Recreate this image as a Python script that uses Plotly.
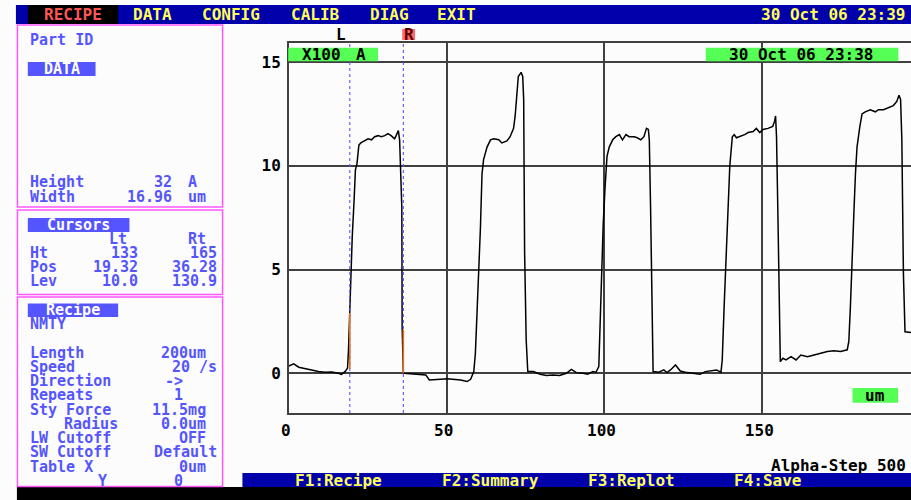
import plotly.graph_objects as go

# ---------------- data ----------------
profile_x = [0, 1.57, 3.14, 5.23, 7.33, 9.42, 11.5, 13.6, 15.7, 16.7, 17.8, 18.6, 18.9, 19.3,
             19.7, 20.1, 20.7, 21.1, 21.6, 22.2, 22.8, 24.1, 25.1, 26.2, 27.2, 28.3, 29.3, 30.4,
             31.4, 32.4, 33.5, 34.0, 34.7, 35.1, 35.4, 35.8, 35.9, 36.28, 36.6, 38.7, 41.9, 43.4,
             44.5, 46.0, 48.1, 50.2, 52.3, 54.4, 56.5, 57.6, 58.6, 59.1, 59.7, 60.2, 60.7, 61.2,
             61.7, 62.8, 63.9, 64.9, 66.5, 67.5, 69.1, 70.1, 71.2, 71.7, 72.2, 72.7, 73.6, 74.1,
             74.4, 74.7, 75.2, 75.7, 77.5, 79.6, 81.6, 83.7, 85.8, 87.9, 89.5, 91.1, 93.2, 94.7,
             96.3, 97.3, 98.2, 98.6, 99.1, 99.6, 100.2, 100.8, 101.5, 102.6, 103.6, 104.7, 105.7,
             106.8, 107.8, 109.4, 110.4, 111.5, 112.5, 113.3, 113.9, 114.2, 114.6, 115.1, 115.4,
             117.2, 118.8, 119.8, 120.9, 122.5, 124.0, 125.6, 127.7, 130.3, 131.9, 134.0, 135.5,
             136.9, 137.3, 137.9, 138.5, 139.2, 139.7, 140.5, 141.1, 141.8, 142.9, 144.4, 145.5,
             147.1, 148.1, 149.2, 150.2, 151.8, 153.3, 153.9, 154.2, 154.5, 154.9, 155.4, 155.7,
             156.5, 157.5, 159.1, 160.7, 162.2, 164.3, 166.4, 168.5, 170.6, 172.7, 174.8, 176.9,
             177.4, 177.9, 178.4, 179.0, 179.5, 180.0, 180.9, 181.6, 182.6, 184.2, 185.8, 186.8,
             188.4, 190.0, 191.5, 192.6, 193.3, 193.8, 194.2, 194.7, 195.2, 197.1]
profile_y = [0.35, 0.45, 0.29, 0.21, 0.16, 0.08, 0.05, 0.06, 0.0, -0.05, 0.08, 0.24, 1.1, 2.9,
             5.0, 6.6, 8.4, 9.8, 10.1, 11.0, 11.1, 11.2, 11.3, 11.25, 11.4, 11.45, 11.4, 11.45,
             11.55, 11.45, 11.3, 11.45, 11.7, 11.25, 9.5, 8.0, 2.2, 0.05, 0.0, -0.03, -0.05, -0.08,
             -0.32, -0.32, -0.29, -0.27, -0.29, -0.32, -0.40, -0.29, 0.08, 0.96, 3.2, 4.8, 7.0, 9.6,
             10.3, 10.9, 11.25, 11.3, 11.25, 11.1, 11.2, 11.4, 11.8, 12.4, 13.3, 14.3, 14.5, 14.3,
             13.2, 5.8, 1.6, 0.08, 0.08, -0.05, -0.11, -0.08, -0.11, 0.0, 0.19, 0.03, 0.0, -0.05,
             0.08, 0.05, 0.32, 2.4, 4.8, 7.2, 9.0, 10.45, 10.9, 11.25, 11.4, 11.5, 11.25,
             11.5, 11.4, 11.4, 11.35, 11.25, 11.4, 11.8, 11.75, 11.25, 8.0, 3.2, 0.08,
             0.05, 0.16, 0.03, 0.16, 0.4, 0.11, 0.05, 0.0, -0.05, 0.08, 0.11, 0.16,
             0.05, 0.64, 3.2, 5.6, 8.0, 10.0, 11.4, 11.5, 11.35, 11.4, 11.5, 11.6,
             11.65, 11.8, 11.6, 11.75, 11.8, 11.9, 12.15, 12.4, 11.4, 8.0, 3.2, 0.56,
             0.72, 0.64, 0.8, 0.64, 0.88, 0.8, 0.88, 0.96, 1.05, 1.09, 1.05, 1.13,
             1.53, 3.2, 5.6, 7.7, 9.6, 10.9, 11.9, 12.5, 12.6, 12.7, 12.6, 12.7,
             12.7, 12.8, 12.9, 13.1, 13.4, 13.2, 11.25, 4.8, 2.0, 1.96]

cursor_names = ["L", "R"]
cursor_pos = [19.32, 36.28]
cursor_hilite_y = [[0.2, 2.9], [0.0, 2.1]]

x_ticks = [0, 50, 100, 150]
y_ticks = [0, 5, 10, 15]
x_range = [0, 197.1]
y_range = [-1.915, 15.93]

menu_labels = ["RECIPE", "DATA", "CONFIG", "CALIB", "DIAG", "EXIT"]
screen_time = "30 Oct 06 23:39"
scan_time = "30 Oct 06 23:38"
scale_labels = ["X100", "A"]
unit_label = "um"
instrument = "Alpha-Step 500"
footer_labels = ["F1:Recipe", "F2:Summary", "F3:Replot", "F4:Save"]

part_title = "Part ID"
part_name = "DATA"
part_labels = ["Height", "Width"]
part_values = ["32", "16.96"]
part_units = ["A", "um"]

cursor_title = "Cursors"
cursor_cols = ["Lt", "Rt"]
cursor_rows = ["Ht", "Pos", "Lev"]
cursor_lt = ["133", "19.32", "10.0"]
cursor_rt = ["165", "36.28", "130.9"]

recipe_title = "Recipe"
recipe_name = "NMTY"
recipe_labels = ["Length", "Speed", "Direction", "Repeats", "Sty Force", "Radius",
                 "LW Cutoff", "SW Cutoff", "Table X", "Y"]
recipe_values = ["200um", "20 /s", "->", "1", "11.5mg", "0.0um", "OFF", "Default", "0um", "0"]

# ---------------- styling / layout helpers ----------------
W, H = 911, 500
BG = "#fcfcfc"
NAVY = "#0000aa"
YEL = "#ffff55"
BLUE = "#5555ff"
MAG = "#ff55ff"
GREEN = "#55ff55"
GRID = "#404040"
FONT = "DejaVu Sans Mono"
FS = 15
FS_BAR = 16
COL0, CW = 8.6, 11.39


def px(x):
    return x / W


def py(y):
    return 1 - y / H


shapes = []
annotations = []


def rect(x0, y0, x1, y1, fill=None, line=None, lw=1.5, layer="above"):
    shapes.append(dict(type="rect", xref="paper", yref="paper",
                       x0=px(x0), x1=px(x1), y0=py(y1), y1=py(y0),
                       fillcolor=fill if fill else "rgba(0,0,0,0)",
                       line=dict(color=line if line else "rgba(0,0,0,0)", width=lw if line else 0),
                       layer=layer))


def txt(col, y, s, color, size=FS, align="center", ncol=None):
    """Place text on the character grid.
    align='left': starts at column col; 'right': ends at column col;
    'center': centred on the cells col .. col+len-1."""
    n = ncol if ncol else len(s)
    if align == "left":
        x, anchor = COL0 + CW * col + 0.5, "left"
    elif align == "right":
        x, anchor = COL0 + CW * (col + 1) - 0.5, "right"
    else:
        x, anchor = COL0 + CW * (col + n / 2), "center"
    annotations.append(dict(text=s, xref="paper", yref="paper", x=px(x), y=py(y),
                            xanchor=anchor, yanchor="middle", showarrow=False,
                            font=dict(family=FONT, size=size, color=color, weight="bold")))


def cx0(c):
    return COL0 + CW * c


# screen chrome
rect(8, 5, 911, 24, fill=NAVY, layer="below")
rect(cx0(1), 5, cx0(9), 24, fill="#000000", layer="below")
rect(9, 487, 911, 500, fill="#000000", layer="below")
rect(236.5, 473, 911, 487, fill=NAVY, layer="below")

menu_cols = [2, 10, 16, 24, 31, 37]
for lab, c in zip(menu_labels, menu_cols):
    txt(c, 14.5, lab, "#ff5555" if lab == "RECIPE" else YEL, size=FS_BAR)
txt(78, 14.5, screen_time, YEL, size=FS_BAR, align="right")

footer_cols = [24, 37, 50, 63]
for lab, c in zip(footer_labels, footer_cols):
    txt(c, 480.5, lab, YEL, size=FS_BAR)
txt(78, 465.5, instrument, "#000000", size=FS_BAR, align="right")

# left panels
rect(9.5, 25, 216.5, 207, line=MAG, lw=1.5, layer="below")
rect(9.5, 210, 216.5, 294.5, line=MAG, lw=1.5, layer="below")
rect(9.5, 297, 216.5, 486.5, line=MAG, lw=1.5, layer="below")

txt(1, 40, part_title, BLUE, align="left")
rect(cx0(1), 62, cx0(7), 76, fill=BLUE, layer="below")
txt(2, 69, part_name, "#ffffff")
for lab, val, unit, y in zip(part_labels, part_values, part_units, [182, 196.5]):
    txt(1, y, lab, BLUE, align="left")
    txt(13, y, val, BLUE, align="right")
    txt(15, y, unit, BLUE, align="left")

rect(cx0(1), 218, cx0(10), 232, fill=BLUE, layer="below")
txt(2, 225, cursor_title, "#ffffff")
txt(9, 239, cursor_cols[0], BLUE, align="right")
txt(16, 239, cursor_cols[1], BLUE, align="right")
for lab, lt, rt, y in zip(cursor_rows, cursor_lt, cursor_rt, [253, 267, 281]):
    txt(1, y, lab, BLUE, align="left")
    txt(10, y, lt, BLUE, align="right")
    txt(17, y, rt, BLUE, align="right")

rect(cx0(1), 303.5, cx0(9), 317, fill=BLUE, layer="below")
txt(2, 310, recipe_title, "#ffffff")
txt(1, 324, recipe_name, BLUE, align="left")
recipe_label_cols = [1, 1, 1, 1, 1, 4, 1, 1, 1, 7]
recipe_value_ends = [16, 17, 14, 14, 16, 16, 16, 17, 16, 14]
recipe_rows_y = [352.5, 367, 381, 395, 409.5, 423.5, 438, 452, 466.5, 480.5]
for lab, val, lc, ve, y in zip(recipe_labels, recipe_values, recipe_label_cols,
                              recipe_value_ends, recipe_rows_y):
    txt(lc, y, lab, BLUE, align="left")
    txt(ve, y, val, BLUE, align="right")

# green info boxes in the plot
rect(282.7, 47.7, 373.3, 61.2, fill=GREEN)
txt(25, 54.5, scale_labels[0], "#000000", size=FS_BAR)
txt(30, 54.5, scale_labels[1], "#000000", size=FS_BAR)
rect(704, 47.7, 898.3, 61.2, fill=GREEN)
txt(62, 54.5, scan_time, "#000000", size=FS_BAR)
rect(852, 388, 898, 402.7, fill=GREEN)
txt(75, 395.3, unit_label, "#000000", size=FS_BAR)

# cursor markers above the plot
rect(397.7, 29, 410.7, 40, fill="#ff6a6a", layer="below")
annotations.append(dict(text=cursor_names[0], xref="x", yref="paper",
                        x=cursor_pos[0], y=py(34.5), xshift=-8.5, showarrow=False,
                        xanchor="center", yanchor="middle",
                        font=dict(family=FONT, size=FS_BAR, color="#000000", weight="bold")))
annotations.append(dict(text=cursor_names[1], xref="x", yref="paper",
                        x=cursor_pos[1], y=py(34.5), xshift=5.8, showarrow=False,
                        xanchor="center", yanchor="middle",
                        font=dict(family=FONT, size=FS_BAR, color="#5a0000", weight="bold")))

# ---------------- traces ----------------
fig = go.Figure()
fig.add_trace(go.Scatter(x=profile_x, y=profile_y, mode="lines",
                         line=dict(color="#000000", width=1.5), hoverinfo="skip"))
for pos, hy in zip(cursor_pos, cursor_hilite_y):
    fig.add_trace(go.Scatter(x=[pos, pos], y=y_range, mode="lines",
                             line=dict(color=BLUE, width=1.1, dash="3px,3px"), hoverinfo="skip"))
    fig.add_trace(go.Scatter(x=[pos, pos], y=hy, mode="lines",
                             line=dict(color="#e07020", width=1.6), hoverinfo="skip"))

tickfont = dict(family=FONT, size=16, color="#000000", weight="bold")
fig.update_layout(
    width=W, height=H, margin=dict(l=0, r=0, t=0, b=0),
    paper_bgcolor=BG, plot_bgcolor=BG, showlegend=False,
    shapes=shapes, annotations=annotations,
    xaxis=dict(domain=[283.3 / W, 1], range=x_range, tickvals=x_ticks,
               showgrid=True, gridcolor=GRID, gridwidth=1.5, showline=True, linecolor=GRID,
               linewidth=1.5, mirror=True, zeroline=False, ticks="", tickfont=tickfont,
               ticklabelshift=-3, ticklabelstandoff=2, fixedrange=True),
    yaxis=dict(domain=[py(413), py(42.7)], range=y_range, tickvals=y_ticks,
               showgrid=True, gridcolor=GRID, gridwidth=1.5, showline=True, linecolor=GRID,
               linewidth=1.5, mirror=False, zeroline=False, ticks="", tickfont=tickfont,
               ticklabelstandoff=3, fixedrange=True),
)

fig.write_html("out.html", config={"displayModeBar": False})
